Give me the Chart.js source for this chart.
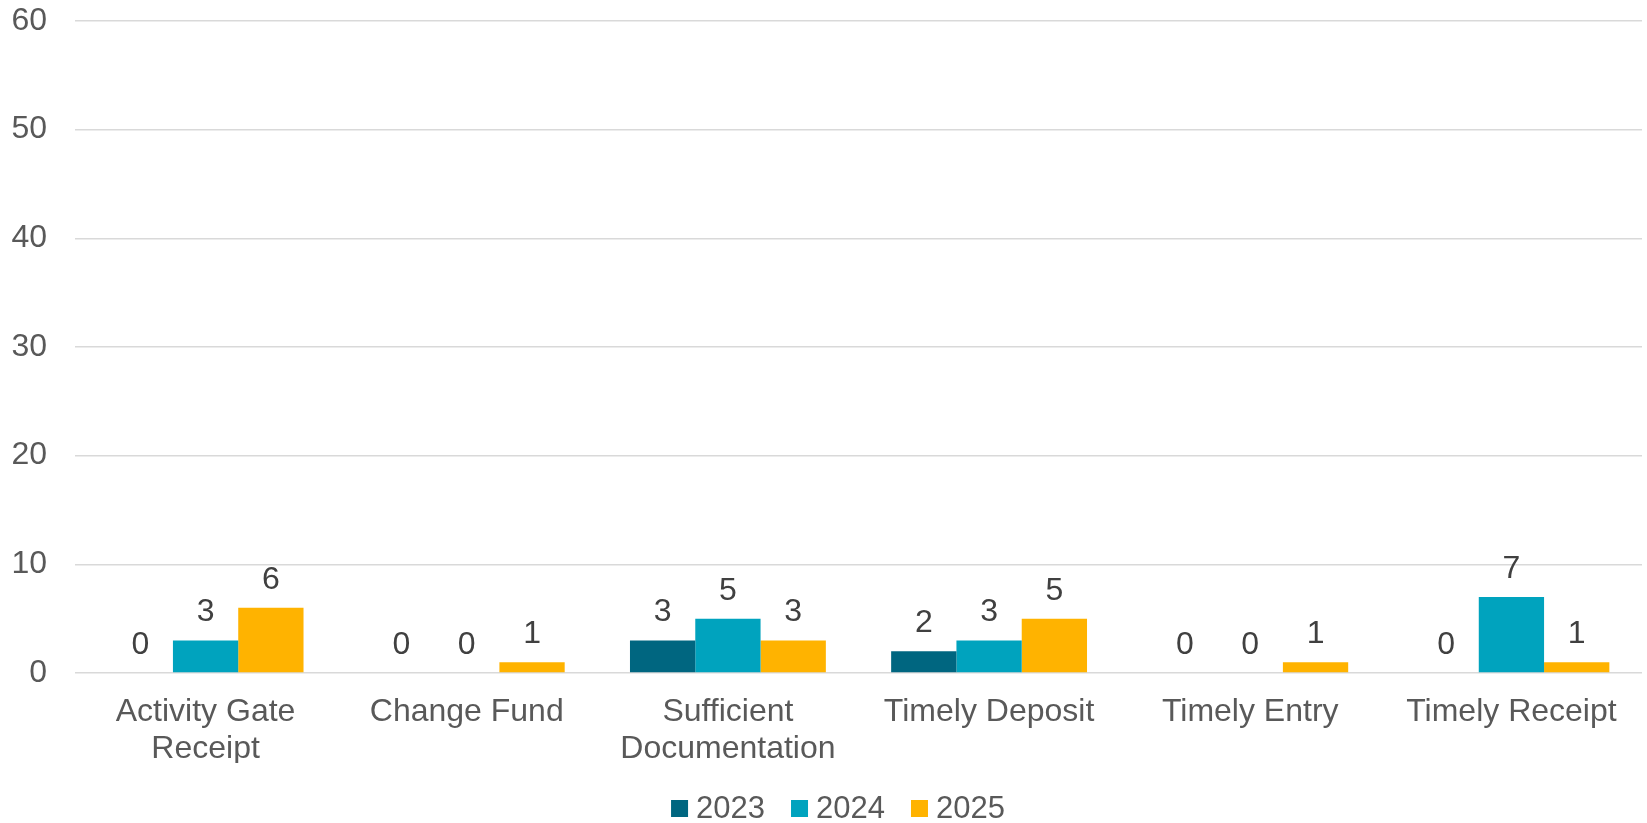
<!DOCTYPE html>
<html>
<head>
<meta charset="utf-8">
<script src="https://cdn.jsdelivr.net/npm/chart.js@4"></script>
<style>
  html, body { margin: 0; padding: 0; background: #fff; }
  #wrap { width: 1647px; height: 823px; position: relative; }
</style>
</head>
<body>
<div id="wrap"><canvas id="chart"></canvas></div>
<script>
var categories = [
  ['Activity Gate', 'Receipt'],
  'Change Fund',
  ['Sufficient', 'Documentation'],
  'Timely Deposit',
  'Timely Entry',
  'Timely Receipt'
];
var seriesNames = ['2023', '2024', '2025'];
var values2023 = [0, 0, 3, 2, 0, 0];
var values2024 = [3, 0, 5, 3, 0, 7];
var values2025 = [6, 1, 3, 5, 1, 1];
var yTicks = [0, 10, 20, 30, 40, 50, 60];

var colors = ['#006680', '#00A3BE', '#FFB300'];
var fontFamily = "'Liberation Sans', Arial, sans-serif";
var textGrey = '#595959';

// values above each bar (0s too, sitting on the axis)
var barLabels = {
  id: 'barLabels',
  afterDatasetsDraw: function(chart) {
    var ctx = chart.ctx;
    ctx.save();
    ctx.font = '32px ' + fontFamily;
    ctx.fillStyle = '#404040';
    ctx.textAlign = 'center';
    ctx.textBaseline = 'alphabetic';
    chart.data.datasets.forEach(function(ds, i) {
      chart.getDatasetMeta(i).data.forEach(function(bar, j) {
        ctx.fillText(String(ds.data[j]), bar.x, bar.y - 19);
      });
    });
    ctx.restore();
  }
};

// small square legend, Excel style
var squareLegend = {
  id: 'squareLegend',
  afterDraw: function(chart) {
    var ctx = chart.ctx;
    ctx.save();
    ctx.font = '31px ' + fontFamily;
    ctx.textBaseline = 'alphabetic';
    var box = 17, gap = 8, spacing = 26;
    var widths = seriesNames.map(function(n) { return box + gap + ctx.measureText(n).width; });
    var total = widths.reduce(function(a, b) { return a + b; }, 0) + spacing * (widths.length - 1);
    var x = 838 - total / 2;
    seriesNames.forEach(function(n, i) {
      ctx.fillStyle = colors[i];
      ctx.fillRect(x, 800, box, box);
      ctx.fillStyle = textGrey;
      ctx.fillText(n, x + box + gap, 818);
      x += widths[i] + spacing;
    });
    ctx.restore();
  }
};

new Chart(document.getElementById('chart'), {
  type: 'bar',
  data: {
    labels: categories,
    datasets: [
      { label: seriesNames[0], data: values2023, backgroundColor: colors[0] },
      { label: seriesNames[1], data: values2024, backgroundColor: colors[1] },
      { label: seriesNames[2], data: values2025, backgroundColor: colors[2] }
    ]
  },
  options: {
    responsive: true,
    maintainAspectRatio: false,
    animation: false,
    categoryPercentage: 0.75,
    barPercentage: 1,
    layout: { padding: { top: 21, right: 5, left: 0, bottom: 60 } },
    plugins: {
      legend: { display: false },
      tooltip: { enabled: false }
    },
    scales: {
      x: {
        grid: { display: false, drawTicks: false },
        border: { display: false },
        ticks: {
          font: { family: fontFamily, size: 32, lineHeight: 1.15 },
          color: textGrey,
          padding: 21,
          maxRotation: 0,
          autoSkip: false
        },
        afterFit: function(scale) {
          scale.height = 90;
          scale.paddingLeft = 0;
          scale.paddingRight = 0;
        }
      },
      y: {
        min: 0,
        max: 60,
        afterBuildTicks: function(scale) {
          scale.ticks = yTicks.map(function(v) { return { value: v }; });
        },
        grid: { color: '#D9D9D9', lineWidth: 1.5, drawTicks: false },
        border: { display: false },
        ticks: {
          font: { family: fontFamily, size: 32 },
          color: textGrey,
          padding: 28
        },
        afterFit: function(scale) {
          scale.width = 75;
          scale.paddingTop = 0;
          scale.paddingBottom = 0;
        }
      }
    }
  },
  plugins: [barLabels, squareLegend]
});
</script>
</body>
</html>
